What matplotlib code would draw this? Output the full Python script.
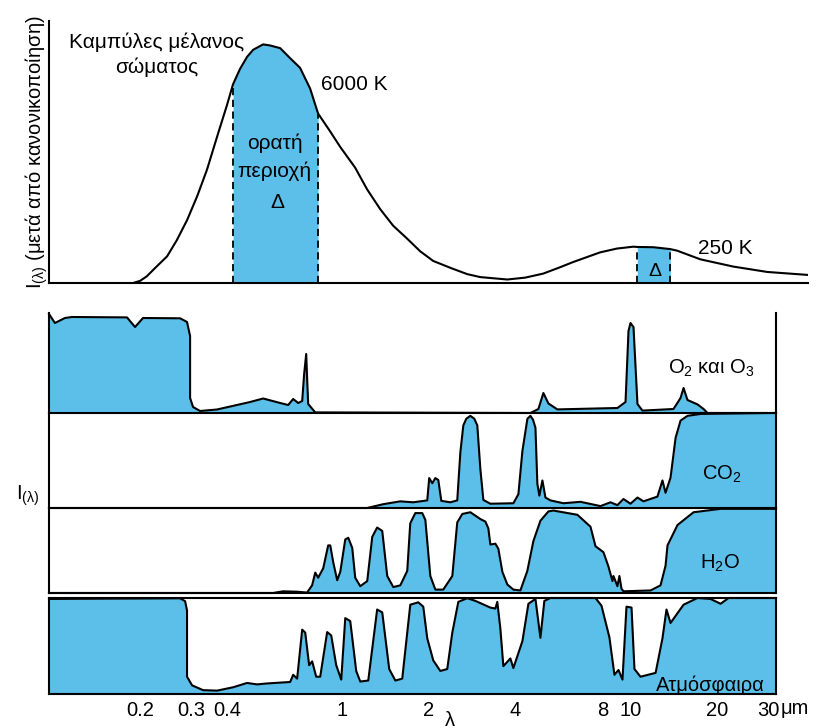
import numpy as np
import matplotlib
matplotlib.use('Agg')
import matplotlib.pyplot as plt
from matplotlib.ticker import NullLocator

plt.rcParams['font.family'] = ['Liberation Sans', 'DejaVu Sans']
plt.rcParams['mathtext.fontset'] = 'custom'
plt.rcParams['mathtext.rm'] = 'Liberation Sans'
plt.rcParams['mathtext.default'] = 'regular'

# ---- data (wavelength in um, normalised intensity / panel fraction) ----
lam_bb = [0.189, 0.200, 0.211, 0.225, 0.248, 0.268, 0.291, 0.316, 0.341, 0.370,
          0.400, 0.420, 0.444, 0.470, 0.493, 0.534, 0.565, 0.612, 0.662, 0.717,
          0.777, 0.828, 0.910, 0.988, 1.113, 1.225, 1.359, 1.508, 1.686, 1.871,
          2.076, 2.40, 2.724, 3.022, 3.750, 4.33, 5.00, 5.70, 6.35, 7.88,
          9.00, 10.26, 10.59, 12.04, 13.79, 14.58, 17.53, 22.81, 29.93, 41.4]
I_bb = [0.0, 0.008, 0.025, 0.055, 0.099, 0.159, 0.234, 0.325, 0.421, 0.545,
        0.661, 0.739, 0.796, 0.841, 0.867, 0.887, 0.883, 0.873, 0.836, 0.800,
        0.723, 0.630, 0.565, 0.506, 0.429, 0.348, 0.275, 0.213, 0.165, 0.118,
        0.082, 0.055, 0.033, 0.022, 0.013, 0.020, 0.035, 0.058, 0.078, 0.114,
        0.128, 0.135, 0.134, 0.133, 0.126, 0.120, 0.088, 0.061, 0.041, 0.030]
visible = (0.420, 0.828)
delta_250 = (10.59, 13.79)

lam_o2 = [0.0966, 0.1013, 0.1097, 0.1160, 0.180, 0.192, 0.2046, 0.2750, 0.2907, 0.2979,
          0.2979, 0.305, 0.3227, 0.3694, 0.4811, 0.5337, 0.6115, 0.6519, 0.6782, 0.706,
          0.7289, 0.7404, 0.7526, 0.7583, 0.7647, 0.8088, 4.506, 4.803, 4.998, 5.203,
          5.588, 9.025, 9.628, 9.859, 10.018, 10.26, 10.59, 11.02, 14.12, 14.937,
          15.30, 15.79, 17.10, 17.95, 18.52, 32.0]
o2 = [0.99, 0.90, 0.95, 0.96, 0.956, 0.86, 0.95, 0.947, 0.91, 0.77,
      0.15, 0.06, 0.02, 0.035, 0.11, 0.145, 0.10, 0.08, 0.14, 0.10,
      0.12, 0.39, 0.59, 0.34, 0.09, 0.006, 0.0, 0.04, 0.20, 0.095,
      0.036, 0.05, 0.11, 0.82, 0.90, 0.86, 0.09, 0.024, 0.04, 0.15,
      0.25, 0.13, 0.086, 0.04, 0.0, 0.0]

lam_co2 = [0.0966, 1.2245, 1.392, 1.5948, 1.769, 1.978, 2.009, 2.059, 2.110, 2.160,
           2.213, 2.378, 2.513, 2.576, 2.638, 2.702, 2.790, 2.879, 2.949, 3.022,
           3.095, 3.273, 3.933, 4.094, 4.227, 4.40, 4.506, 4.60, 4.691, 4.763,
           4.84, 4.959, 5.081, 5.287, 5.864, 6.719, 7.883, 8.539, 9.025, 9.471,
           10.018, 10.59, 11.11, 12.42, 12.93, 13.25, 13.79, 14.36, 14.937, 15.79,
           17.525, 32.0]
co2 = [0.0, 0.0, 0.04, 0.07, 0.06, 0.08, 0.315, 0.26, 0.315, 0.295,
       0.075, 0.06, 0.08, 0.585, 0.87, 0.94, 0.97, 0.94, 0.87, 0.41,
       0.085, 0.045, 0.05, 0.145, 0.60, 0.94, 0.97, 0.93, 0.845, 0.255,
       0.13, 0.29, 0.11, 0.08, 0.05, 0.065, 0.02, 0.06, 0.03, 0.095,
       0.045, 0.11, 0.07, 0.12, 0.29, 0.16, 0.32, 0.74, 0.92, 0.97,
       0.99, 1.0]

lam_h2o = [0.0966, 0.578, 0.626, 0.700, 0.758, 0.789, 0.809, 0.828, 0.862, 0.897,
           0.912, 0.934, 0.964, 0.988, 1.028, 1.053, 1.087, 1.113, 1.159, 1.225,
           1.275, 1.326, 1.381, 1.437, 1.508, 1.595, 1.686, 1.727, 1.798, 1.901,
           1.948, 2.027, 2.110, 2.248, 2.416, 2.513, 2.617, 2.790, 3.022, 3.146,
           3.221, 3.273, 3.407, 3.489, 3.602, 3.748, 3.933, 4.160, 4.397, 4.614,
           4.881, 5.203, 5.414, 6.556, 7.278, 7.576, 8.072, 8.403, 8.675, 8.744,
           9.025, 9.170, 9.323, 9.471, 11.754, 12.731, 13.25, 13.46, 14.58, 16.57,
           20.56, 32.0]
h2o = [0.0, 0.0, 0.02, 0.015, 0.005, 0.09, 0.24, 0.18, 0.29, 0.56,
       0.56, 0.36, 0.15, 0.25, 0.63, 0.65, 0.53, 0.18, 0.08, 0.14,
       0.66, 0.77, 0.73, 0.2, 0.07, 0.09, 0.26, 0.82, 0.94, 0.94,
       0.86, 0.2, 0.04, 0.04, 0.2, 0.83, 0.93, 0.95, 0.87, 0.84,
       0.76, 0.57, 0.58, 0.52, 0.25, 0.10, 0.04, 0.03, 0.26, 0.61,
       0.85, 0.96, 0.97, 0.92, 0.78, 0.55, 0.48, 0.31, 0.14, 0.2,
       0.08, 0.2, 0.05, 0.02, 0.03, 0.09, 0.32, 0.56, 0.80, 0.95,
       0.99, 0.99]

lam_atm = [0.0966, 0.2750, 0.2863, 0.2907, 0.2907, 0.3027, 0.3305, 0.3694, 0.4200, 0.4695,
           0.5085, 0.5509, 0.6623, 0.6782, 0.7001, 0.7289, 0.7468, 0.7705, 0.7894, 0.8151,
           0.8417, 0.8897, 0.9190, 0.9564, 0.9954, 1.028, 1.0696, 1.122, 1.1585, 1.235,
           1.326, 1.381, 1.460, 1.533, 1.620, 1.7274, 1.841, 1.916, 1.978, 2.075,
           2.1953, 2.320, 2.416, 2.535, 2.723, 2.904, 3.2733, 3.407, 3.460, 3.5456,
           3.631, 3.8405, 3.933, 4.227, 4.435, 4.691, 4.8808, 5.037, 5.2867, 7.576,
           7.946, 8.466, 8.812, 9.102, 9.397, 9.702, 10.10, 10.34, 10.851, 12.24,
           12.93, 13.35, 13.79, 15.30, 17.10, 18.983, 20.562, 21.92, 32.0]
atm = [0.99, 0.997, 0.967, 0.87, 0.18, 0.09, 0.04, 0.035, 0.07, 0.115,
       0.10, 0.11, 0.125, 0.20, 0.16, 0.67, 0.64, 0.30, 0.34, 0.18,
       0.18, 0.645, 0.61, 0.30, 0.15, 0.79, 0.76, 0.24, 0.13, 0.14,
       0.88, 0.85, 0.26, 0.14, 0.16, 0.93, 0.955, 0.91, 0.58, 0.35,
       0.24, 0.26, 0.64, 0.96, 0.998, 0.97, 0.90, 0.89, 0.96, 0.68,
       0.29, 0.37, 0.27, 0.55, 0.94, 0.99, 0.585, 0.97, 1.0, 1.0,
       0.92, 0.59, 0.20, 0.25, 0.15, 0.91, 0.90, 0.26, 0.18, 0.22,
       0.58, 0.88, 0.74, 0.93, 1.0, 0.99, 0.94, 1.0, 1.0]

tick_vals = [0.2, 0.3, 0.4, 1, 2, 4, 8, 10, 20, 30]
tick_labels = ['0.2', '0.3', '0.4', '1', '2', '4', '8', '10', '20', '30']

LAM_MIN, LAM_MAX, LAM_MAX_TOP = 0.0966, 32.0, 41.4
BLUE = '#5bbfe9'
LW = 1.5
FS = 14.5

W, H = 821, 728
fig = plt.figure(figsize=(W / 100, H / 100), dpi=100)


def box(x0, x1, top, bottom):
    return [x0 / W, 1 - bottom / H, (x1 - x0) / W, (bottom - top) / H]


def txt(x, y, s, **kw):
    kw.setdefault('ha', 'center')
    kw.setdefault('va', 'center')
    kw.setdefault('fontsize', FS)
    fig.text(x / W, 1 - y / H, s, **kw)


def clean(ax, xmax):
    ax.set_xscale('log')
    ax.set_xlim(LAM_MIN, xmax)
    ax.xaxis.set_minor_locator(NullLocator())
    ax.set_xticks([])
    ax.set_yticks([])
    ax.set_facecolor('none')
    for s in ax.spines.values():
        s.set_linewidth(LW)


def panel(rect, lam, val, spines=('left', 'right', 'bottom')):
    ax = fig.add_axes(rect)
    clean(ax, LAM_MAX)
    ax.set_ylim(0, 1)
    ax.fill_between(lam, 0, val, color=BLUE, lw=0)
    ax.plot(lam, val, color='k', lw=LW, clip_on=False, solid_joinstyle='round')
    for k, s in ax.spines.items():
        s.set_visible(k in spines)
    return ax


# ---- black body curves ----
ax = fig.add_axes(box(49, 808, 21, 283))
clean(ax, LAM_MAX_TOP)
ax.set_ylim(0, 0.974)
ax.spines['top'].set_visible(False)
ax.spines['right'].set_visible(False)
lam = np.array(lam_bb)
I = np.array(I_bb)
ax.plot(lam, I, color='k', lw=LW, solid_joinstyle='round')
for a, b in (visible, delta_250):
    m = (lam >= a - 1e-9) & (lam <= b + 1e-9)
    ax.fill_between(lam[m], 0, I[m], color=BLUE, lw=0)
    ia, ib = np.argmin(abs(lam - a)), np.argmin(abs(lam - b))
    ax.vlines([lam[ia], lam[ib]], 0, [I[ia], I[ib]], colors='k',
              linestyles=(0, (4, 2.5)), lw=1.3)

# ---- absorption panels ----
panel(box(49, 776, 313, 413), lam_o2, o2)
panel(box(49, 776, 413, 508), lam_co2, co2)
panel(box(49, 776, 508, 593), lam_h2o, h2o)
ax_atm = panel(box(49, 776, 598, 694), lam_atm, atm,
               spines=('left', 'right', 'bottom', 'top'))
ax_atm.set_xticks(tick_vals, tick_labels)
ax_atm.xaxis.set_minor_locator(NullLocator())
ax_atm.tick_params(axis='x', length=0, pad=5, labelsize=FS)

# ---- texts ----
txt(157, 42, 'Καμπύλες μέλανος', fontsize=15)
txt(157, 67, 'σώματος', fontsize=15)
txt(354, 85, '6000 K', fontsize=15)
txt(725, 248, '250 K', fontsize=15)
txt(275, 143, 'ορατή', fontsize=15)
txt(274, 171, 'περιοχή', fontsize=15)
txt(277, 202, 'Δ', fontsize=15)
txt(655, 271, 'Δ', fontsize=14)
txt(37, 152, r'I$_{(λ)}$ (μετά από κανονικοποίηση)', rotation=90)
txt(16, 496, r'I$_{(λ)}$', ha='left')
txt(711, 368, r'O$_2$ και O$_3$')
txt(722, 474, r'CO$_2$')
txt(720, 563, r'H$_2$O')
txt(710, 685, 'Ατμόσφαιρα')
txt(450, 720, 'λ')
txt(795, 708, 'μm')

fig.savefig('out.png', dpi=100)
